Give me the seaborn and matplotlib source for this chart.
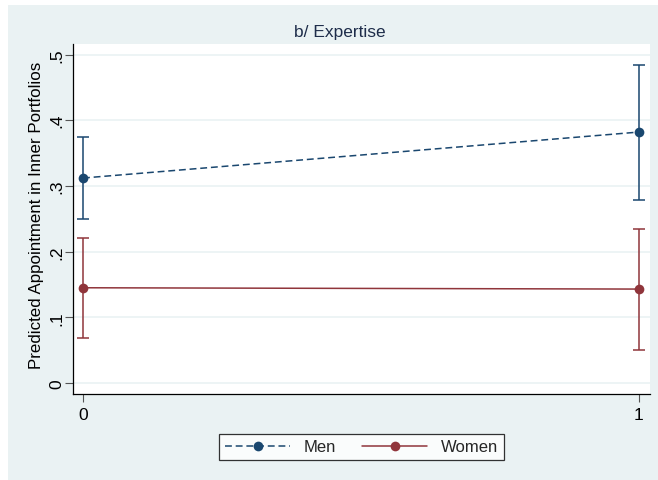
import matplotlib
matplotlib.use("Agg")
import matplotlib.pyplot as plt
import seaborn as sns
import pandas as pd
from matplotlib.patches import Rectangle
from matplotlib.lines import Line2D

# Predicted appointment probabilities with 95% confidence intervals
expertise = [0, 1]
men_pred = [0.312, 0.382]
men_lo = [0.249, 0.279]
men_hi = [0.375, 0.484]
women_pred = [0.145, 0.143]
women_lo = [0.069, 0.050]
women_hi = [0.220, 0.235]

groups = ["Men", "Women"]
y_ticks = [0, 0.1, 0.2, 0.3, 0.4, 0.5]
y_tick_labels = ["0", ".1", ".2", ".3", ".4", ".5"]
x_tick_labels = ["0", "1"]

NAVY = "#1a476f"
MAROON = "#90353b"
BG = "#eaf2f3"

df = pd.DataFrame({
    "expertise": expertise * 2,
    "pred": men_pred + women_pred,
    "lo": men_lo + women_lo,
    "hi": men_hi + women_hi,
    "group": ["Men"] * 2 + ["Women"] * 2,
})

sns.set_theme(style="white")
plt.rcParams["font.family"] = ["Liberation Sans", "DejaVu Sans"]

W, H = 658, 481
fig = plt.figure(figsize=(W / 100, H / 100), dpi=100, facecolor="white")
fig.patches.append(Rectangle((8 / W, 0), 1 - 8 / W, 1 - 6 / H,
                             transform=fig.transFigure, facecolor=BG,
                             edgecolor="none", zorder=-10))

ax = fig.add_axes([73 / W, (H - 395) / H, (650 - 73) / W, (395 - 45) / H])
ax.set_facecolor("white")

palette = {"Men": NAVY, "Women": MAROON}
for g in groups:
    sub = df[df["group"] == g]
    ax.errorbar(sub["expertise"], sub["pred"],
                yerr=[sub["pred"] - sub["lo"], sub["hi"] - sub["pred"]],
                fmt="none", ecolor=palette[g], elinewidth=1.1,
                capsize=4, capthick=1.1, zorder=3)

sns.lineplot(data=df, x="expertise", y="pred", hue="group", style="group",
             palette=palette, dashes={"Men": (4.5, 2.5), "Women": ""},
             markers={"Men": "o", "Women": "o"}, markersize=7,
             markeredgewidth=0, linewidth=1.1, legend=False, ax=ax, zorder=4)

ax.set_xlim(-0.018, 1.0198)
ax.set_ylim(-0.0167, 0.516)
ax.set_yticks(y_ticks)
ax.set_yticklabels(y_tick_labels, rotation=90, va="center", fontsize=12.5)
ax.set_xticks(expertise)
ax.set_xticklabels(x_tick_labels, fontsize=12.5)
ax.tick_params(axis="both", direction="out", length=5.5, width=0.8,
               color="#555555", labelcolor="black", left=True, bottom=True)
ax.tick_params(axis="y", pad=0.5)
ax.tick_params(axis="x", pad=4)
ax.grid(axis="y", color=BG, linewidth=1.2)
ax.set_axisbelow(True)
for s in ["top", "right"]:
    ax.spines[s].set_visible(False)
for s in ["left", "bottom"]:
    ax.spines[s].set_color("black")
    ax.spines[s].set_linewidth(0.9)

ax.set_xlabel("")
ax.set_ylabel("Predicted Appointment in Inner Portfolios", fontsize=12.2,
              color="black")
ax.yaxis.set_label_coords((37 - 73) / (650 - 73), (395 - 215) / (395 - 45))
ax.yaxis.label.set_va("center")

fig.text(340 / W, 1 - 33 / H, "b/ Expertise", ha="center", va="center",
         fontsize=12.5, color="#1e2d4a")

handles = [
    Line2D([], [], color=NAVY, linestyle=(0, (4.5, 2.5)), linewidth=1.1,
           marker="o", markersize=7, markeredgewidth=0, markevery=[1]),
    Line2D([], [], color=MAROON, linewidth=1.1,
           marker="o", markersize=7, markeredgewidth=0, markevery=[1]),
]
for h in handles:
    h.set_xdata([0, 0.5, 1])
leg = fig.legend(handles, groups, loc="center", bbox_to_anchor=(361.5 / W, (H - 448) / H),
                 ncol=2, fontsize=12, frameon=True, fancybox=False,
                 edgecolor="black", handlelength=3.9, columnspacing=1.6,
                 borderpad=0.35, handletextpad=0.8)
leg.get_frame().set_linewidth(0.9)
leg.get_frame().set_facecolor("white")

fig.savefig("out.png", dpi=100, facecolor=fig.get_facecolor())
